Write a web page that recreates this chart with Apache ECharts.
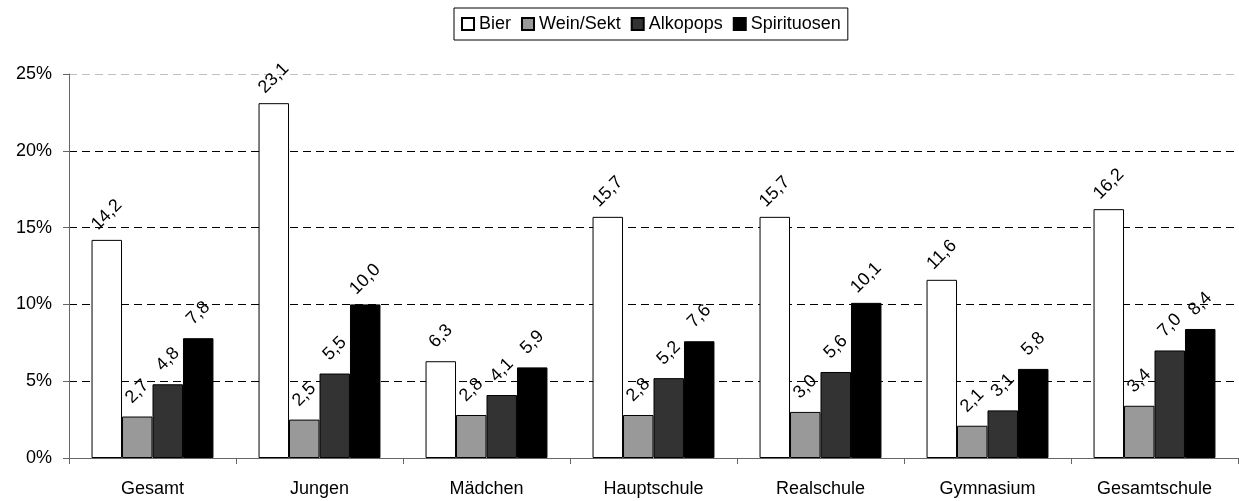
<!DOCTYPE html>
<html>
<head>
<meta charset="utf-8">
<script src="https://cdn.jsdelivr.net/npm/echarts@6/dist/echarts.min.js"></script>
<style>
  html, body { margin: 0; padding: 0; background: #fff; }
  #chart { width: 1239px; height: 501px; }
</style>
</head>
<body>
<div id="chart"></div>
<script>
var categories = ['Gesamt', 'Jungen', 'Mädchen', 'Hauptschule', 'Realschule', 'Gymnasium', 'Gesamtschule'];
var bier = [14.2, 23.1, 6.3, 15.7, 15.7, 11.6, 16.2];
var weinSekt = [2.7, 2.5, 2.8, 2.8, 3.0, 2.1, 3.4];
var alkopops = [4.8, 5.5, 4.1, 5.2, 5.6, 3.1, 7.0];
var spirituosen = [7.8, 10.0, 5.9, 7.6, 10.1, 5.8, 8.4];

var FONT = 'Liberation Sans, Arial, sans-serif';

function makeSeries(name, data, color) {
  return {
    name: name,
    type: 'bar',
    data: data,
    barGap: '0%',
    barCategoryGap: '27%',
    itemStyle: { color: color, borderColor: '#000', borderWidth: 1 },
    label: {
      show: true,
      position: 'top',
      distance: 25,
      rotate: 45,
      align: 'center',
      verticalAlign: 'middle',
      color: '#000',
      fontSize: 18,
      fontFamily: FONT,
      formatter: function (p) { return p.value.toFixed(1).replace('.', ','); }
    }
  };
}

var chart = echarts.init(document.getElementById('chart'));
chart.setOption({
  backgroundColor: '#fff',
  animation: false,
  legend: {
    top: 8,
    left: 454,
    icon: 'rect',
    itemWidth: 12,
    itemHeight: 12,
    itemGap: 10,
    padding: [7, 7],
    borderColor: '#000',
    borderWidth: 1,
    textStyle: { color: '#000', fontSize: 18, fontFamily: FONT },
    data: ['Bier', 'Wein/Sekt', 'Alkopops', 'Spirituosen']
  },
  grid: { left: 69, right: 1, top: 74, bottom: 43, containLabel: false },
  xAxis: {
    type: 'category',
    data: categories,
    axisLine: { lineStyle: { color: '#666', width: 1 } },
    axisTick: { show: true, length: 6, lineStyle: { color: '#666' } },
    axisLabel: { color: '#000', fontSize: 18, fontFamily: FONT, margin: 22 }
  },
  yAxis: {
    type: 'value',
    min: 0,
    max: 25,
    interval: 5,
    axisLine: { show: true, lineStyle: { color: '#666', width: 1 } },
    axisTick: { show: true, length: 6, lineStyle: { color: '#666' } },
    axisLabel: { color: '#000', fontSize: 18, fontFamily: FONT, margin: 17, formatter: '{value}%' },
    splitLine: {
      show: true,
      lineStyle: {
        color: ['#000', '#000', '#000', '#000', '#000', '#c0c0c0'],
        type: [8, 5],
        width: 1
      }
    }
  },
  series: [
    makeSeries('Bier', bier, '#ffffff'),
    makeSeries('Wein/Sekt', weinSekt, '#999999'),
    makeSeries('Alkopops', alkopops, '#333333'),
    makeSeries('Spirituosen', spirituosen, '#000000')
  ]
});
</script>
</body>
</html>
